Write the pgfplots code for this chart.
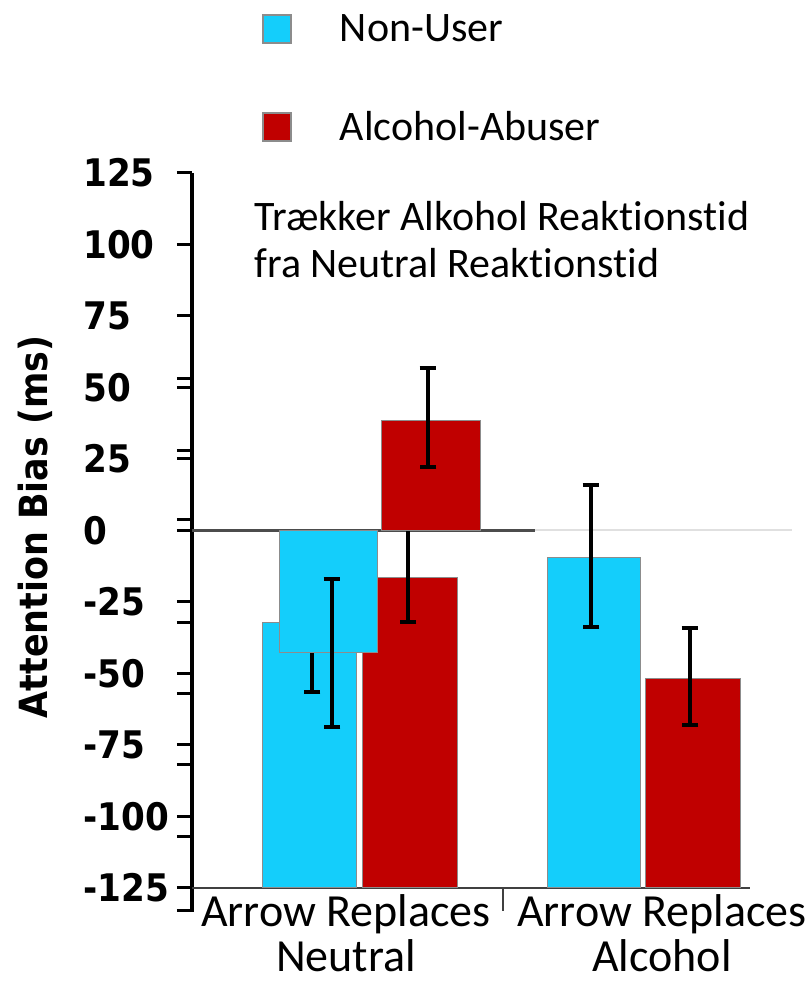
\documentclass[border=0pt]{standalone}
\usepackage{pgfplots}
\pgfplotsset{compat=1.18}
\usepackage{fontspec}
\setmainfont{Carlito}[RawFeature={-liga;-calt;-clig;-dlig}]
\newfontfamily\tickfont{DejaVu Sans Condensed}
\definecolor{nublue}{RGB}{20,206,251}
\definecolor{abred}{RGB}{192,0,0}
\definecolor{edgegray}{RGB}{140,140,140}
\begin{document}
\begin{tikzpicture}
\useasboundingbox (0,0) rectangle (404pt,490.5pt);
\begin{axis}[
  at={(96pt,34.5pt)}, anchor=south west,
  scale only axis, width=304pt, height=369.5pt,
  xmin=192, xmax=800, ymin=-133.4, ymax=125,
  clip=false,
  axis y line*=left, axis x line*=bottom,
  x axis line style={draw=none},
  y axis line style={line width=2pt, black, -},
  xtick={346,662},
  xticklabels={{Arrow Replaces\\Neutral},{Arrow Replaces\\Alcohol}},
  x tick style={draw=none},
  xticklabel style={align=center, anchor=north, inner sep=0pt, yshift=16.5pt,
    font=\fontsize{23}{22.5}\selectfont},
  ytick={-125,-100,-75,-50,-25,0,25,50,75,100,125},
  yticklabels={-125,-100,-75,-50,-25,0,25,50,75,100,125},
  minor ytick={-133,-107,-82,-57,-32,4,28,53},
  tick align=outside, major tick length=7.5pt, minor tick length=7.5pt,
  y tick style={line width=1.5pt, black},
  yticklabel style={anchor=west, inner sep=0pt, xshift=-47pt,
    font=\tickfont\bfseries\fontsize{19}{19}\selectfont},
  ylabel={Attention Bias (ms)},
  every axis y label/.style={at={(rel axis cs:0,0.521)}, xshift=-78.5pt,
    rotate=90, anchor=center, font=\tickfont\bfseries\fontsize{19.4}{19.4}\selectfont},
  legend image code/.code={\draw[#1] (0pt,-7pt) rectangle (14pt,7pt);},
  legend style={at={(rel axis cs:0.115,1.221)}, anchor=north west, draw=none,
    fill=none, inner sep=0pt, row sep=29.5pt, font=\fontsize{21}{21}\selectfont,
    /tikz/every odd column/.append style={column sep=22pt}},
  legend cell align=left,
  legend entries={Non-User, Alcohol-Abuser},
]
\addlegendimage{fill=nublue, draw=edgegray, line width=0.8pt}
\addlegendimage{fill=abred, draw=edgegray, line width=0.8pt}

% axis lines drawn as data lines
\addplot[forget plot, draw=black!75, line width=1.2pt] coordinates {(192,-125) (750,-125)};
\addplot[forget plot, draw=black!75, line width=1.2pt] coordinates {(503,-125) (503,-133)};
\addplot[forget plot, draw=black!70, line width=1.1pt] coordinates {(192,0) (535,0)};
\addplot[forget plot, draw=black!12, line width=1pt] coordinates {(535,0) (792,0)};

% original bars (baseline -125)
\addplot[forget plot, fill=nublue, draw=edgegray, line width=0.5pt] coordinates {(263,-125) (263,-32.0) (357,-32.0) (357,-125)} --cycle;
\addplot[forget plot, fill=abred, draw=edgegray, line width=0.5pt] coordinates {(363,-125) (363,-16.3) (457,-16.3) (457,-125)} --cycle;
\addplot[forget plot, fill=nublue, draw=edgegray, line width=0.5pt] coordinates {(547,-125) (547,-9.6) (640,-9.6) (640,-125)} --cycle;
\addplot[forget plot, fill=abred, draw=edgegray, line width=0.5pt] coordinates {(645,-125) (645,-51.9) (740,-51.9) (740,-125)} --cycle;

% error bars of original bars
\addplot[forget plot, draw=none, mark=none,
  error bars/.cd, y dir=both, y explicit,
  error bar style={line width=1.8pt, draw=black},
  error mark options={rotate=90, mark size=4.2pt, line width=1.8pt, draw=black}]
  coordinates {
  (312,-32.0) +- (0,24.5)
  (408,-16.3) += (0,21) -= (0,15.7)
  (591,-9.6) += (0,25.5) -= (0,24.1)
  (690,-51.9) += (0,17.8) -= (0,16.1)
  };

% overlay bars (baseline 0)
\addplot[forget plot, fill=nublue, draw=edgegray, line width=0.5pt] coordinates {(280,0) (280,-42.5) (378,-42.5) (378,0)} --cycle;
\addplot[forget plot, fill=abred, draw=edgegray, line width=0.5pt] coordinates {(382,0) (382,38.6) (480,38.6) (480,0)} --cycle;

\addplot[forget plot, draw=none, mark=none,
  error bars/.cd, y dir=both, y explicit,
  error bar style={line width=1.8pt, draw=black},
  error mark options={rotate=90, mark size=4.2pt, line width=1.8pt, draw=black}]
  coordinates {
  (332,-42.5) += (0,25.5) -= (0,26.2)
  (428,38.6) += (0,18.2) -= (0,16.4)
  };

\node[anchor=north west, align=left, inner sep=0pt,
  font=\fontsize{21}{23.5}\selectfont] at (axis cs:254,115.2)
  {Trækker Alkohol Reaktionstid\\fra Neutral Reaktionstid};
\end{axis}
\end{tikzpicture}
\end{document}
